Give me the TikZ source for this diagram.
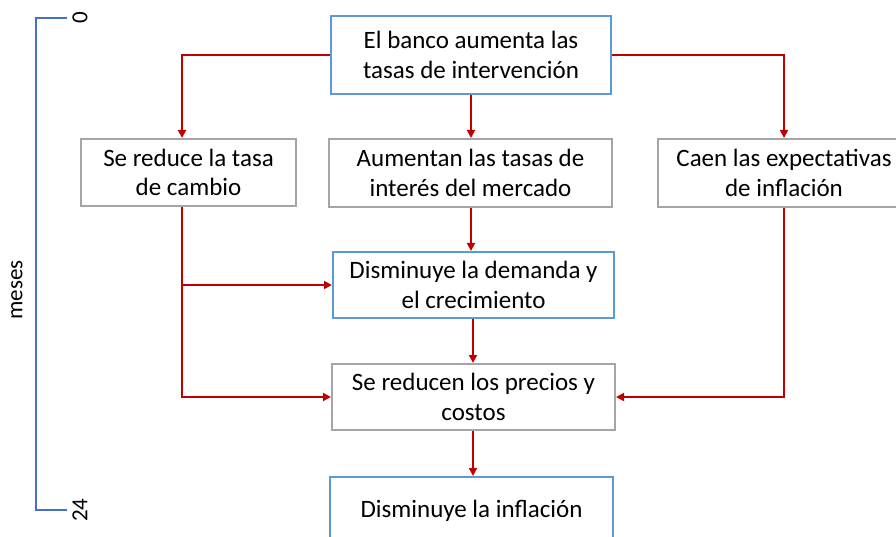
\documentclass[tikz,border=0pt]{standalone}
\usepackage{fontspec}
\setmainfont{Carlito}
\usetikzlibrary{arrows.meta,calc}
\definecolor{boxblue}{HTML}{5B9BD5}
\definecolor{boxgray}{HTML}{A5A5A5}
\definecolor{arrred}{HTML}{C00000}
\definecolor{brblue}{HTML}{4472C4}
\begin{document}
\begin{tikzpicture}[x=1pt,y=-1pt,
  box/.style={draw=#1,line width=2pt,fill=white,align=center,inner sep=0pt,
    font=\fontsize{25}{29.5}\selectfont},
  arr/.style={draw=arrred,line width=1.8pt,-{Triangle[length=8pt,width=8pt]}},
  lbl/.style={font=\fontsize{23}{26}\selectfont,rotate=90,inner sep=0pt}]
\useasboundingbox (0,0) rectangle (896,537);
\clip (0,0) rectangle (896,537);
\node[box=boxblue,minimum width=280pt,minimum height=78pt] (top) at (471,55) {El banco aumenta las\\tasas de intervención};
\node[box=boxgray,minimum width=215pt,minimum height=67pt] (left) at (188.5,172.5) {Se reduce la tasa\\de cambio};
\node[box=boxgray,minimum width=283pt,minimum height=68pt] (mid) at (470.5,173) {Aumentan las tasas de\\interés del mercado};
\node[box=boxgray,minimum width=252pt,minimum height=68pt] (right) at (784,173) {Caen las expectativas\\de inflación};
\node[box=boxblue,minimum width=281pt,minimum height=66pt] (dem) at (473.5,285) {Disminuye la demanda y\\el crecimiento};
\node[box=boxgray,minimum width=283pt,minimum height=66pt] (pri) at (473.5,397) {Se reducen los precios y\\costos};
\node[box=boxblue,minimum width=283pt,minimum height=68pt] (inf) at (471.5,511) {Disminuye la inflación};
% arrows
\draw[arr] (top.west) -| ([xshift=-6.5pt]left.north);
\draw[arr] (top.east) -| (right.north);
\draw[arr] (top.south) -- (top.south |- mid.north);
\draw[arr] ([xshift=0.5pt]mid.south) -- ([xshift=0.5pt]mid.south |- dem.north);
\draw[arr] ([xshift=-6.5pt]left.south) |- (pri.west);
\coordinate (br) at ([xshift=-6.5pt]left.south |- dem.west);
\draw[arr] (br) -- (dem.west);
\draw[arr] (right.south) |- (pri.east);
\draw[arr] ([xshift=-0.5pt]dem.south) -- ([xshift=-0.5pt]pri.north);
\draw[arr] ([xshift=-0.5pt]pri.south) -- ([xshift=-0.5pt]pri.south |- inf.north);
% bracket
\coordinate (b0) at (67,18);
\coordinate (b1) at (67,510);
\draw[brblue,line width=1.8pt] (b0) -- (36,18) -- (36,510) -- (b1);
\node[lbl] (l0) at (80,18) {0};
\node[lbl] (l24) at (80,510) {24};
\node[lbl] (lm) at (17,290) {meses};
\end{tikzpicture}
\end{document}
